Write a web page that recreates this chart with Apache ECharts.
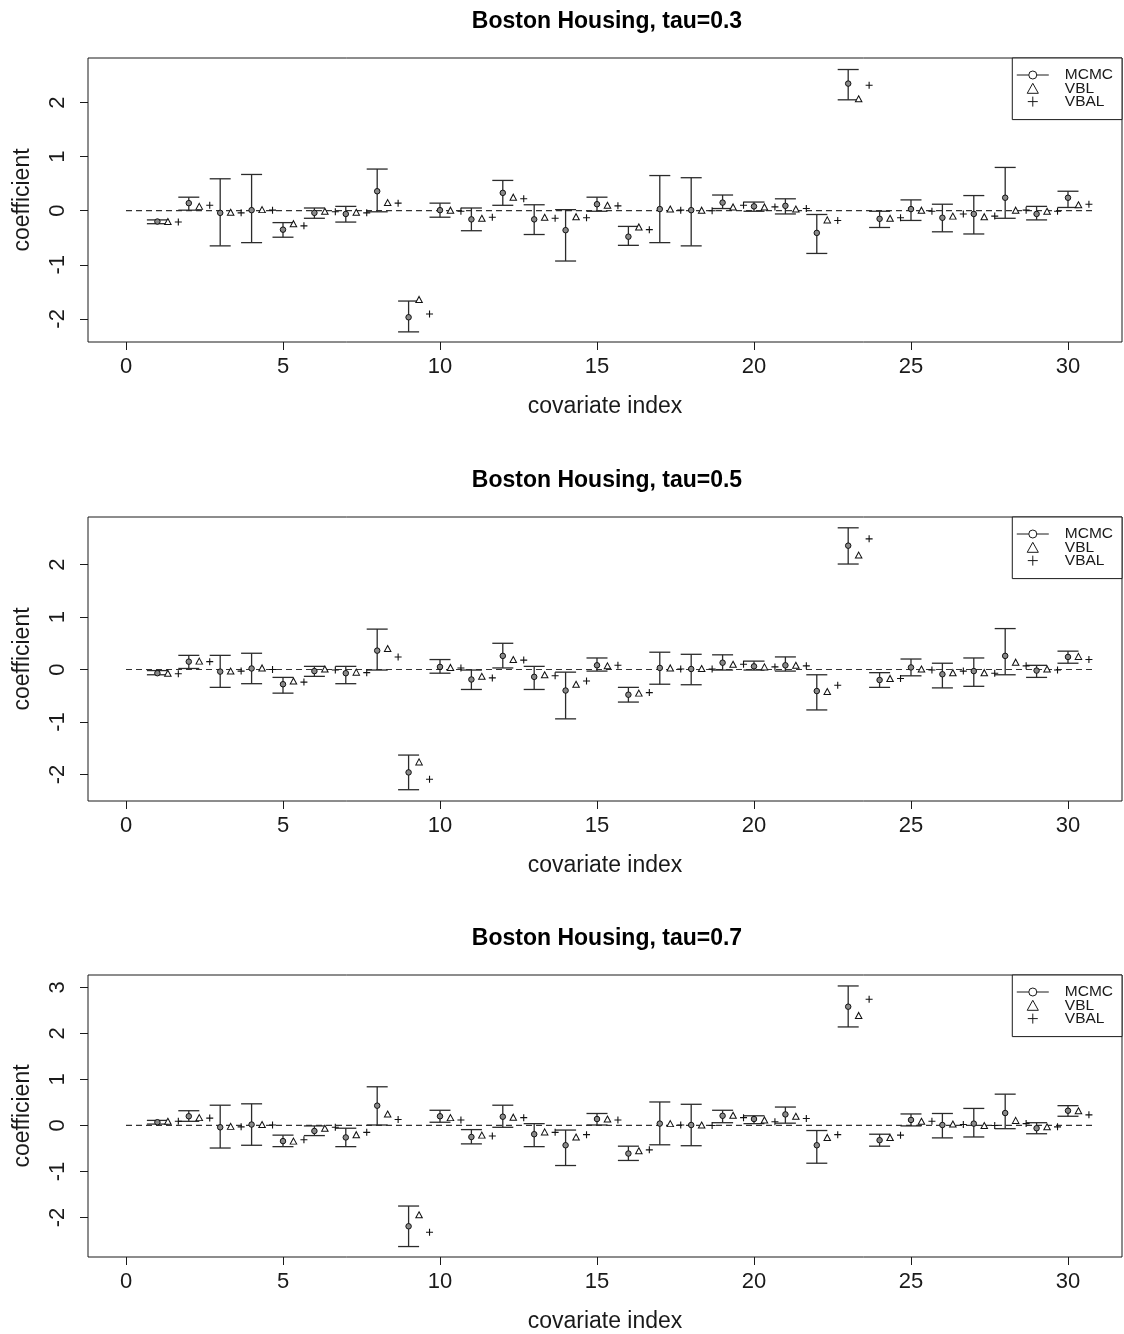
<!DOCTYPE html>
<html>
<head>
<meta charset="utf-8">
<script src="https://cdn.jsdelivr.net/npm/echarts@6/dist/echarts.min.js"></script>
<style>
  html, body { margin: 0; padding: 0; background: #ffffff; }
  #chart { width: 1124px; height: 1334px; }
</style>
</head>
<body>
<div id="chart"></div>
<script>
// Covariate indices and axis ticks
const covariateIndex = [1, 2, 3, 4, 5, 6, 7, 8, 9, 10, 11, 12, 13, 14, 15,
                        16, 17, 18, 19, 20, 21, 22, 23, 24, 25, 26, 27, 28, 29, 30];
const xTickValues = [0, 5, 10, 15, 20, 25, 30];
const yTicksTau03 = [-2, -1, 0, 1, 2];
const yTicksTau05 = [-2, -1, 0, 1, 2];
const yTicksTau07 = [-2, -1, 0, 1, 2, 3];
const panelTitles = ['Boston Housing, tau=0.3', 'Boston Housing, tau=0.5', 'Boston Housing, tau=0.7'];
const methodNames = ['MCMC', 'VBL', 'VBAL'];
const zeroLineSpan = [0, 30.85];

// tau = 0.3
const mcmcMean03 = [-0.20, 0.14, -0.04, 0.01, -0.35, -0.04, -0.06, 0.36, -1.97, 0.01, -0.16, 0.33, -0.16, -0.36, 0.12,
                    -0.48, 0.03, 0.01, 0.15, 0.08, 0.09, -0.41, 2.35, -0.15, 0.03, -0.13, -0.06, 0.24, -0.06, 0.24];
const mcmcLow03  = [-0.24, 0.01, -0.65, -0.59, -0.49, -0.14, -0.21, -0.02, -2.24, -0.12, -0.37, 0.10, -0.44, -0.93, -0.01,
                    -0.64, -0.59, -0.65, 0.04, -0.01, -0.06, -0.79, 2.05, -0.31, -0.18, -0.39, -0.43, -0.14, -0.17, 0.06];
const mcmcHigh03 = [-0.17, 0.25, 0.59, 0.67, -0.22, 0.05, 0.08, 0.77, -1.67, 0.14, 0.05, 0.56, 0.11, 0.02, 0.25,
                    -0.29, 0.65, 0.61, 0.29, 0.16, 0.22, -0.07, 2.61, -0.01, 0.20, 0.12, 0.28, 0.80, 0.08, 0.36];
const vbl03  = [-0.20, 0.08, -0.03, 0.02, -0.24, -0.01, -0.03, 0.15, -1.64, 0.01, -0.14, 0.25, -0.12, -0.11, 0.10,
                -0.30, 0.03, 0.01, 0.07, 0.07, 0.03, -0.17, 2.07, -0.14, 0.01, -0.10, -0.11, 0.01, -0.01, 0.11];
const vbal03 = [-0.21, 0.10, -0.04, 0.01, -0.28, -0.02, -0.04, 0.14, -1.91, -0.01, -0.12, 0.22, -0.14, -0.13, 0.09,
                -0.35, 0.01, 0.00, 0.10, 0.07, 0.04, -0.18, 2.32, -0.13, -0.01, -0.06, -0.10, 0.01, -0.01, 0.12];

// tau = 0.5
const mcmcMean05 = [-0.07, 0.15, -0.04, 0.02, -0.28, -0.03, -0.07, 0.36, -1.96, 0.05, -0.19, 0.26, -0.14, -0.40, 0.08,
                    -0.48, 0.03, 0.01, 0.13, 0.06, 0.08, -0.41, 2.36, -0.20, 0.04, -0.09, -0.03, 0.26, -0.02, 0.24];
const mcmcLow05  = [-0.10, 0.02, -0.34, -0.27, -0.45, -0.13, -0.27, -0.01, -2.29, -0.07, -0.38, 0.03, -0.38, -0.94, -0.03,
                    -0.62, -0.28, -0.29, -0.01, -0.01, -0.03, -0.77, 2.01, -0.34, -0.12, -0.35, -0.32, -0.10, -0.15, 0.12];
const mcmcHigh05 = [-0.02, 0.27, 0.27, 0.31, -0.15, 0.06, 0.06, 0.77, -1.63, 0.19, -0.01, 0.50, 0.06, -0.05, 0.22,
                    -0.34, 0.33, 0.29, 0.28, 0.16, 0.24, -0.10, 2.70, -0.06, 0.20, 0.12, 0.22, 0.78, 0.08, 0.35];
const vbl05  = [-0.07, 0.16, -0.03, 0.03, -0.22, 0.01, -0.05, 0.40, -1.76, 0.04, -0.13, 0.19, -0.10, -0.28, 0.07,
                -0.45, 0.03, 0.02, 0.10, 0.05, 0.08, -0.42, 2.18, -0.17, 0.01, -0.06, -0.06, 0.14, 0.01, 0.25];
const vbal05 = [-0.08, 0.15, -0.03, 0.00, -0.24, -0.01, -0.06, 0.24, -2.09, 0.03, -0.16, 0.18, -0.12, -0.22, 0.08,
                -0.44, 0.01, 0.01, 0.10, 0.05, 0.07, -0.30, 2.49, -0.17, -0.01, -0.03, -0.07, 0.07, -0.01, 0.19];

// tau = 0.7
const mcmcMean07 = [0.07, 0.20, -0.04, 0.02, -0.34, -0.12, -0.26, 0.43, -2.19, 0.20, -0.25, 0.19, -0.19, -0.43, 0.14,
                    -0.61, 0.04, 0.01, 0.21, 0.14, 0.24, -0.43, 2.58, -0.32, 0.12, 0.01, 0.04, 0.27, -0.06, 0.32];
const mcmcLow07  = [0.03, 0.09, -0.49, -0.43, -0.46, -0.22, -0.46, 0.01, -2.63, 0.07, -0.40, -0.04, -0.46, -0.87, 0.01,
                    -0.76, -0.42, -0.44, 0.06, 0.04, 0.05, -0.82, 2.14, -0.45, -0.01, -0.27, -0.25, -0.07, -0.18, 0.20];
const mcmcHigh07 = [0.11, 0.32, 0.44, 0.47, -0.21, -0.01, -0.06, 0.84, -1.75, 0.33, -0.09, 0.44, 0.04, -0.10, 0.26,
                    -0.45, 0.51, 0.46, 0.33, 0.21, 0.40, -0.11, 3.03, -0.19, 0.25, 0.26, 0.37, 0.68, 0.06, 0.43];
const vbl07  = [0.09, 0.17, -0.02, 0.02, -0.34, -0.06, -0.20, 0.25, -1.94, 0.17, -0.21, 0.18, -0.14, -0.25, 0.14,
                -0.55, 0.04, 0.01, 0.22, 0.12, 0.20, -0.26, 2.39, -0.26, 0.09, 0.03, 0.00, 0.11, -0.03, 0.32];
const vbal07 = [0.09, 0.16, -0.03, 0.01, -0.31, -0.04, -0.15, 0.13, -2.32, 0.12, -0.23, 0.17, -0.15, -0.20, 0.12,
                -0.53, 0.01, 0.00, 0.17, 0.08, 0.15, -0.20, 2.74, -0.21, 0.09, 0.02, 0.00, 0.04, -0.03, 0.23];

// Per-panel layout: plot box top (px) and y range of each panel
const panelLayout = [
  { top: 58,  yMin: -2.427, yMax: 2.823 },
  { top: 517, yMin: -2.505, yMax: 2.906 },
  { top: 975, yMin: -2.857, yMax: 3.268 }
];
const panelData = [
  { mean: mcmcMean03, low: mcmcLow03, high: mcmcHigh03, vbl: vbl03, vbal: vbal03, yTicks: yTicksTau03 },
  { mean: mcmcMean05, low: mcmcLow05, high: mcmcHigh05, vbl: vbl05, vbal: vbal05, yTicks: yTicksTau05 },
  { mean: mcmcMean07, low: mcmcLow07, high: mcmcHigh07, vbl: vbl07, vbal: vbal07, yTicks: yTicksTau07 }
];

const FONT = '"Liberation Sans", Arial, Helvetica, sans-serif';
const PLOT_LEFT = 88, PLOT_WIDTH = 1034, PLOT_HEIGHT = 284;
const INK = '#1a1a1a';

const plusPath = 'path://M5,0L5,10M0,5L10,5';
const trianglePath = 'path://M5,0L10,9L0,9Z';
const lineCirclePath = 'path://M0,5L12,5M20,5L32,5M20,5A4,4,0,1,1,12,5A4,4,0,1,1,20,5';

function errorBar(params, api) {
  const x = api.value(0);
  const top = api.coord([x, api.value(2)]);
  const bot = api.coord([x, api.value(1)]);
  const hw = 10.5;
  const style = { stroke: '#2b2b2b', lineWidth: 1.3, fill: null };
  return {
    type: 'group',
    children: [
      { type: 'line', shape: { x1: top[0], y1: top[1], x2: bot[0], y2: bot[1] }, style: style },
      { type: 'line', shape: { x1: top[0] - hw, y1: top[1], x2: top[0] + hw, y2: top[1] }, style: style },
      { type: 'line', shape: { x1: bot[0] - hw, y1: bot[1], x2: bot[0] + hw, y2: bot[1] }, style: style }
    ]
  };
}

const grids = [], xAxes = [], yAxes = [], titles = [], legends = [], series = [];

panelLayout.forEach(function (lay, k) {
  const d = panelData[k];
  grids.push({
    left: PLOT_LEFT, width: PLOT_WIDTH, top: lay.top, height: PLOT_HEIGHT,
    show: true, borderColor: INK, borderWidth: 1, backgroundColor: 'transparent'
  });
  xAxes.push({
    type: 'value', gridIndex: k, min: -1.21, max: 31.72, position: 'bottom',
    name: 'covariate index', nameLocation: 'middle', nameGap: 53,
    nameTextStyle: { fontFamily: FONT, fontSize: 23, color: INK },
    axisLine: { show: false, onZero: false },
    axisTick: { show: true, customValues: xTickValues, length: 8, lineStyle: { color: INK, width: 1 } },
    axisLabel: { customValues: xTickValues, fontFamily: FONT, fontSize: 22, color: INK, margin: 14 },
    splitLine: { show: false }
  });
  yAxes.push({
    type: 'value', gridIndex: k, min: lay.yMin, max: lay.yMax, position: 'left',
    name: 'coefficient', nameLocation: 'middle', nameGap: 54, nameRotate: 90,
    nameTextStyle: { fontFamily: FONT, fontSize: 23, color: INK },
    axisLine: { show: false, onZero: false },
    axisTick: { show: true, customValues: d.yTicks, length: 8, lineStyle: { color: INK, width: 1 } },
    axisLabel: { customValues: d.yTicks, rotate: 90, fontFamily: FONT, fontSize: 22, color: INK, margin: 19 },
    splitLine: { show: false }
  });
  titles.push({
    text: panelTitles[k], left: PLOT_LEFT + PLOT_WIDTH / 2 + 2, textAlign: 'center', top: lay.top - 48, padding: 0,
    textStyle: { fontFamily: FONT, fontSize: 23, fontWeight: 'bold', color: '#000' }
  });
  legends.push({
    orient: 'vertical', right: 2, top: lay.top, padding: [9, 9, 10, 4],
    borderColor: INK, borderWidth: 1, borderRadius: 0, backgroundColor: '#fff',
    itemWidth: 32, itemHeight: 10, itemGap: -2.7, selectedMode: false,
    textStyle: { fontFamily: FONT, fontSize: 15.5, lineHeight: 13, color: INK, padding: [0, 0, 0, 11] },
    data: [
      { name: 'MCMC', icon: lineCirclePath, itemStyle: { color: 'rgba(0,0,0,0)', borderColor: INK, borderWidth: 1 } },
      { name: 'VBL', icon: trianglePath, itemStyle: { color: 'rgba(0,0,0,0)', borderColor: INK, borderWidth: 1 } },
      { name: 'VBAL', icon: plusPath, itemStyle: { color: 'rgba(0,0,0,0)', borderColor: INK, borderWidth: 1 } }
    ]
  });

  // dashed reference line at zero
  series.push({
    type: 'line', name: 'zero', xAxisIndex: k, yAxisIndex: k, silent: true,
    data: [[zeroLineSpan[0], 0], [zeroLineSpan[1], 0]], symbol: 'none', z: 1,
    lineStyle: { color: '#333', width: 1.2, type: [6, 4] }
  });
  // MCMC credible intervals
  series.push({
    type: 'custom', name: methodNames[0], xAxisIndex: k, yAxisIndex: k, z: 2,
    renderItem: errorBar, encode: { x: 0, y: [1, 2] },
    data: covariateIndex.map(function (c, j) { return [c, d.low[j], d.high[j]]; })
  });
  // MCMC posterior means
  series.push({
    type: 'scatter', name: methodNames[0], xAxisIndex: k, yAxisIndex: k, z: 3,
    symbol: 'circle', symbolSize: 5.5,
    itemStyle: { color: '#8a8a8a', borderColor: '#111', borderWidth: 1, opacity: 1 },
    data: covariateIndex.map(function (c, j) { return [c, d.mean[j]]; })
  });
  // VBL estimates
  series.push({
    type: 'scatter', name: methodNames[1], xAxisIndex: k, yAxisIndex: k, z: 3,
    symbol: trianglePath, symbolSize: [6.5, 6],
    itemStyle: { color: '#fff', borderColor: '#111', borderWidth: 1, opacity: 1 },
    data: covariateIndex.map(function (c, j) { return [c + 1 / 3, d.vbl[j]]; })
  });
  // VBAL estimates
  series.push({
    type: 'scatter', name: methodNames[2], xAxisIndex: k, yAxisIndex: k, z: 3,
    symbol: plusPath, symbolSize: 7,
    itemStyle: { color: 'rgba(0,0,0,0)', borderColor: '#111', borderWidth: 1.1, opacity: 1 },
    data: covariateIndex.map(function (c, j) { return [c + 2 / 3, d.vbal[j]]; })
  });
});

const chart = echarts.init(document.getElementById('chart'), null, { renderer: 'canvas' });
chart.setOption({
  backgroundColor: '#ffffff',
  animation: false,
  title: titles,
  legend: legends,
  grid: grids,
  xAxis: xAxes,
  yAxis: yAxes,
  series: series
});
</script>
</body>
</html>
